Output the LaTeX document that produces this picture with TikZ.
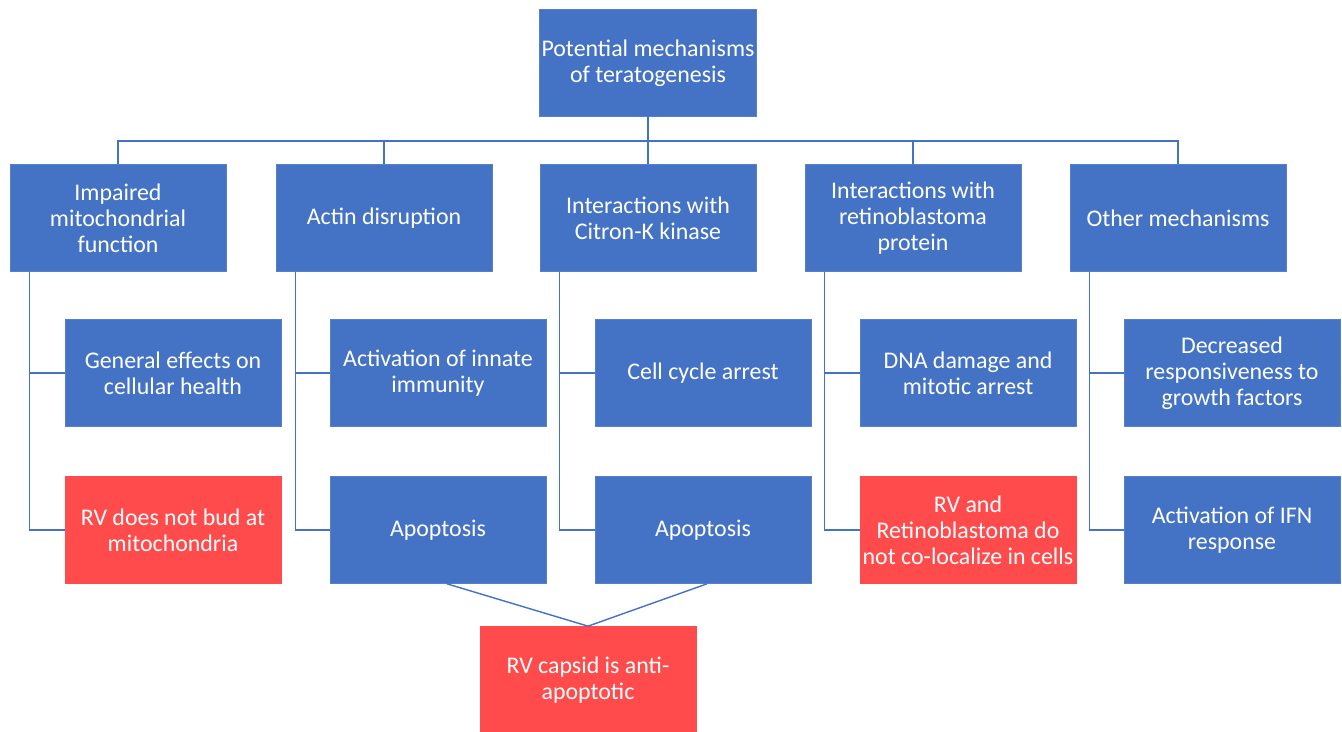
\documentclass[tikz,border=0pt]{standalone}
\usepackage{fontspec}
\setmainfont{Carlito}
\definecolor{boxblue}{HTML}{4472C4}
\definecolor{boxred}{HTML}{FF4B4B}
\tikzset{
  mechbox/.style={fill=boxblue, draw=boxblue!90!white, text=white, minimum width=4.32cm, minimum height=2.14cm,
    inner sep=1pt, align=center, font=\fontsize{13.6}{14.7}\selectfont},
  failbox/.style={mechbox, fill=boxred, draw=boxred},
  link/.style={draw=boxblue, line width=0.8pt}
}
\begin{document}
\begin{tikzpicture}[x=0.02cm,y=-0.02cm]
        \useasboundingbox (0,0) rectangle (1342,732);
        %Gốc
        \node[mechbox] (root) at (648,63) {Potential mechanisms\\of teratogenesis};
        \coordinate (bus) at (648,141);
        %Cơ chế
        \node[mechbox] (l1a) at (118,218) {Impaired\\mitochondrial\\function};
        \node[mechbox] (l1b) at (384,218) {Actin disruption};
        \node[mechbox] (l1c) at (648,218) {Interactions with\\Citron-K kinase};
        \node[mechbox] (l1d) at (913,218) {Interactions with\\retinoblastoma\\protein};
        \node[mechbox] (l1e) at (1178,218) {Other mechanisms};
        %Hệ quả
        \node[mechbox] (l2a) at (173,373) {General effects on\\cellular health};
        \node[mechbox] (l2b) at (438,373) {Activation of innate\\immunity};
        \node[mechbox] (l2c) at (703,373) {Cell cycle arrest};
        \node[mechbox] (l2d) at (968,373) {DNA damage and\\mitotic arrest};
        \node[mechbox] (l2e) at (1232,373) {Decreased\\responsiveness to\\growth factors};
        \node[failbox] (l3a) at (173,530) {RV does not bud at\\mitochondria};
        \node[mechbox] (l3b) at (438,530) {Apoptosis};
        \node[mechbox] (l3c) at (703,530) {Apoptosis};
        \node[failbox] (l3d) at (968,530) {RV and\\Retinoblastoma do\\not co-localize in cells};
        \node[mechbox] (l3e) at (1232,530) {Activation of IFN\\response};
        \node[failbox] (anti) at (588,680) {RV capsid is anti-\\apoptotic};
        %Đường nối
        \draw[link] (root.south) -- (bus);
        \foreach \n in {a,b,c,d,e}{
          \draw[link] (l1\n.north) |- (bus);
          \coordinate (s\n) at ([xshift=0.4cm]l1\n.south west);
          \draw[link] (s\n) |- (l3\n.west);
          \draw[link] (s\n) |- (l2\n.west);
        }
        \draw[link] ([xshift=0.18cm]l3b.south) -- (anti.north);
        \draw[link] ([xshift=0.08cm]l3c.south) -- (anti.north);
\end{tikzpicture}
\end{document}
